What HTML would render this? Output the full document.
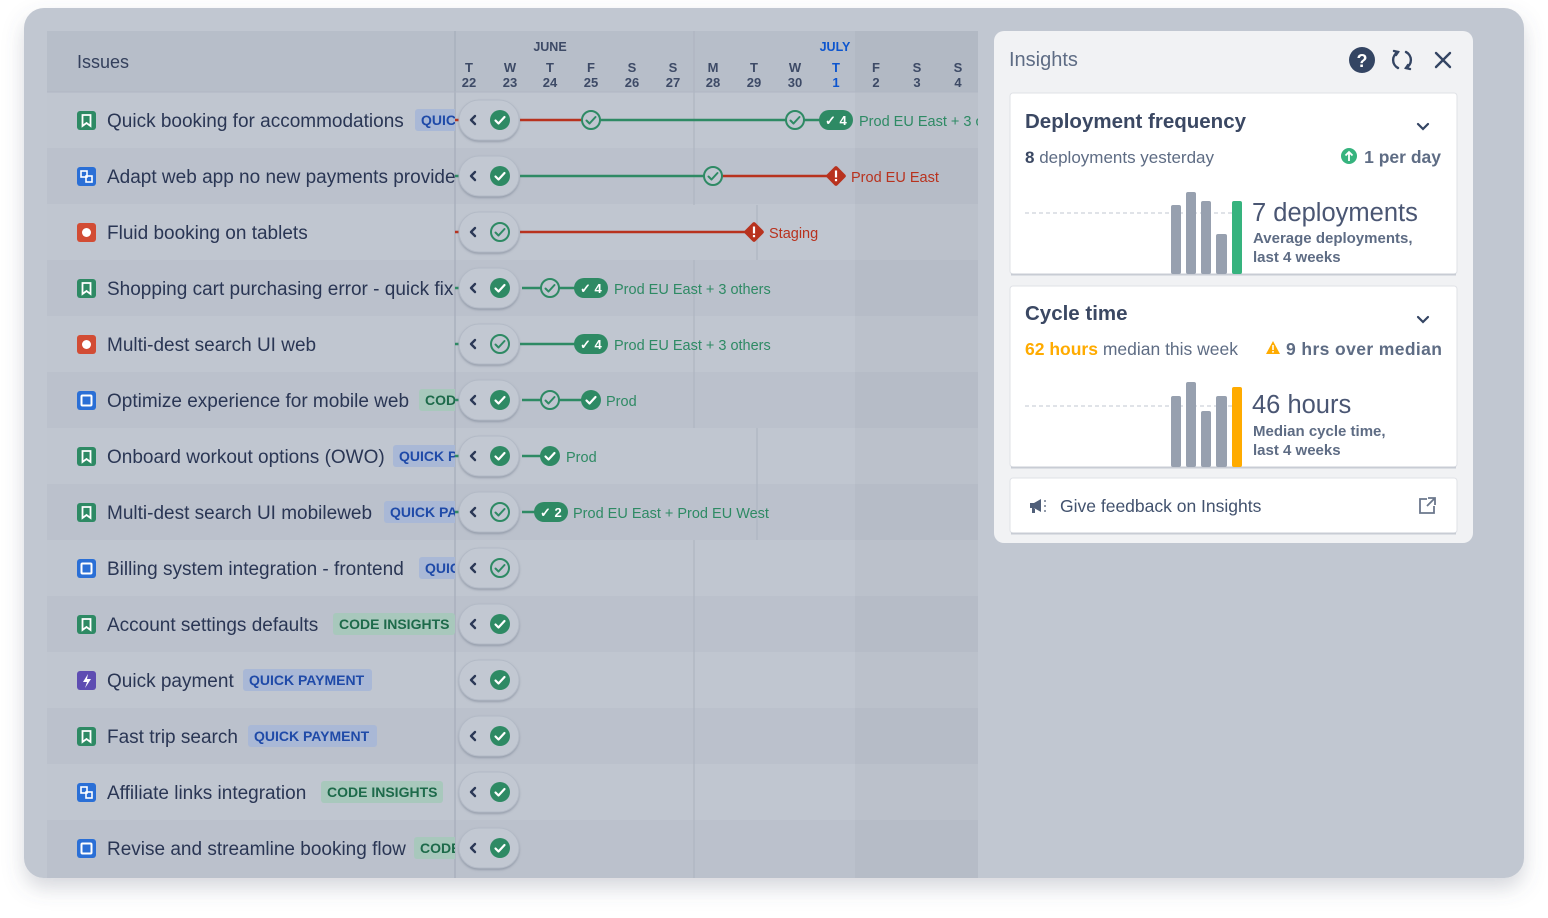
<!DOCTYPE html>
<html><head><meta charset="utf-8"><style>
html,body{margin:0;padding:0;background:#fff;}
svg{display:block;font-family:"Liberation Sans",sans-serif;}
</style></head><body>
<svg width="1548" height="918" viewBox="0 0 1548 918" xmlns="http://www.w3.org/2000/svg">
<defs>
<filter id="sh" x="-5%" y="-5%" width="110%" height="115%"><feDropShadow dx="0" dy="10" stdDeviation="10" flood-color="#5a6478" flood-opacity="0.25"/></filter>
<filter id="ps" x="-30%" y="-30%" width="160%" height="170%"><feDropShadow dx="0" dy="1.5" stdDeviation="1" flood-color="#6b7486" flood-opacity="0.5"/></filter>
<clipPath id="lc"><rect x="47" y="92" width="408" height="790"/></clipPath>
<clipPath id="tc"><rect x="455" y="92" width="523" height="790"/></clipPath>
<g id="cs"><circle r="10" fill="#2e8a64"/><polyline points="-4.5,0.5 -1.5,3.5 4.5,-3" fill="none" stroke="#fff" stroke-width="2.2" stroke-linecap="round" stroke-linejoin="round"/></g>
<g id="co"><circle r="9" fill="#c0c6d0" stroke="#2e8a64" stroke-width="2"/><polyline points="-4.5,0.5 -1.5,3.5 4.5,-3" fill="none" stroke="#2e8a64" stroke-width="2" stroke-linecap="round" stroke-linejoin="round"/></g>
<g id="pill"><rect x="-30" y="-20" width="60" height="40" rx="20" fill="#c2c8d2" stroke="#b3bac6" stroke-width="1" filter="url(#ps)"/><polyline points="-14,-4 -18,0 -14,4" fill="none" stroke="#2b3856" stroke-width="2.4" stroke-linecap="round" stroke-linejoin="round"/></g>
<g id="dia"><rect x="-7.5" y="-7.5" width="15" height="15" rx="2" fill="#b8321e" transform="rotate(45)"/><rect x="-1.1" y="-5.5" width="2.2" height="7" fill="#fff"/><rect x="-1.1" y="3" width="2.2" height="2.2" fill="#fff"/></g>
</defs>

<rect x="24" y="8" width="1500" height="870" rx="20" fill="#c1c7d1" filter="url(#sh)"/>

<rect x="47" y="31" width="931" height="847" fill="#c0c6d0"/>
<rect x="47" y="31" width="931" height="61" fill="#b7bec9"/>
<g fill="#bbc1cc">
<rect x="47" y="148" width="931" height="56"/><rect x="47" y="260" width="931" height="56"/><rect x="47" y="372" width="931" height="56"/><rect x="47" y="484" width="931" height="56"/><rect x="47" y="596" width="931" height="56"/><rect x="47" y="708" width="931" height="56"/><rect x="47" y="820" width="931" height="58"/>
</g>
<rect x="855" y="31" width="123" height="847" fill="#000" opacity="0.025"/>
<line x1="455" y1="31" x2="455" y2="878" stroke="#a9b0bd" stroke-width="1.5"/>
<line x1="694" y1="31" x2="694" y2="205" stroke="#aeb5c1" stroke-width="1.2"/>
<line x1="694" y1="260" x2="694" y2="428" stroke="#aeb5c1" stroke-width="1.2"/>
<line x1="694" y1="540" x2="694" y2="878" stroke="#aeb5c1" stroke-width="1.2"/>
<line x1="757" y1="205" x2="757" y2="260" stroke="#aeb5c1" stroke-width="1.2"/>
<line x1="757" y1="428" x2="757" y2="540" stroke="#aeb5c1" stroke-width="1.2"/>
<line x1="47" y1="92" x2="978" y2="92" stroke="#b0b7c3" stroke-width="1"/>

<text x="77" y="68" font-size="18" fill="#34405c">Issues</text>
<g font-size="13" font-weight="bold" fill="#3d4a66" text-anchor="middle">
<text x="550" y="51" font-size="12.5">JUNE</text>
<text x="835" y="51" font-size="12.5" fill="#0c55cf">JULY</text>
<text x="469" y="72">T</text><text x="469" y="87">22</text>
<text x="510" y="72">W</text><text x="510" y="87">23</text>
<text x="550" y="72">T</text><text x="550" y="87">24</text>
<text x="591" y="72">F</text><text x="591" y="87">25</text>
<text x="632" y="72">S</text><text x="632" y="87">26</text>
<text x="673" y="72">S</text><text x="673" y="87">27</text>
<text x="713" y="72">M</text><text x="713" y="87">28</text>
<text x="754" y="72">T</text><text x="754" y="87">29</text>
<text x="795" y="72">W</text><text x="795" y="87">30</text>
<text x="836" y="72" fill="#0c55cf">T</text><text x="836" y="87" fill="#0c55cf">1</text>
<text x="876" y="72">F</text><text x="876" y="87">2</text>
<text x="917" y="72">S</text><text x="917" y="87">3</text>
<text x="958" y="72">S</text><text x="958" y="87">4</text>
</g>

<g clip-path="url(#lc)">
<g font-size="19" fill="#2a3654">
<text x="107" y="127">Quick booking for accommodations</text>
<text x="107" y="183">Adapt web app no new payments provider</text>
<text x="107" y="239">Fluid booking on tablets</text>
<text x="107" y="295">Shopping cart purchasing error - quick fix</text>
<text x="107" y="351">Multi-dest search UI web</text>
<text x="107" y="407">Optimize experience for mobile web</text>
<text x="107" y="463">Onboard workout options (OWO)</text>
<text x="107" y="519">Multi-dest search UI mobileweb</text>
<text x="107" y="575">Billing system integration - frontend</text>
<text x="107" y="631">Account settings defaults</text>
<text x="107" y="687">Quick payment</text>
<text x="107" y="743">Fast trip search</text>
<text x="107" y="799">Affiliate links integration</text>
<text x="107" y="855">Revise and streamline booking flow</text>
</g>
<g font-size="14" font-weight="bold">
<rect x="415" y="109" width="60" height="22" rx="3" fill="#a9b8d6"/><text x="421" y="125" fill="#1f4aa8">QUICK</text>
<rect x="419" y="389" width="60" height="22" rx="3" fill="#a8c8bc"/><text x="425" y="405" fill="#1d6a4a">CODE</text>
<rect x="393" y="445" width="80" height="22" rx="3" fill="#a9b8d6"/><text x="399" y="461" fill="#1f4aa8">QUICK P</text>
<rect x="384" y="501" width="80" height="22" rx="3" fill="#a9b8d6"/><text x="390" y="517" fill="#1f4aa8">QUICK PA</text>
<rect x="419" y="557" width="60" height="22" rx="3" fill="#a9b8d6"/><text x="425" y="573" fill="#1f4aa8">QUICK</text>
<rect x="333" y="613" width="122" height="22" rx="3" fill="#a8c8bc"/><text x="339" y="629" fill="#1d6a4a">CODE INSIGHTS</text>
<rect x="243" y="669" width="129" height="22" rx="3" fill="#a9b8d6"/><text x="249" y="685" fill="#1f4aa8">QUICK PAYMENT</text>
<rect x="248" y="725" width="129" height="22" rx="3" fill="#a9b8d6"/><text x="254" y="741" fill="#1f4aa8">QUICK PAYMENT</text>
<rect x="321" y="781" width="122" height="22" rx="3" fill="#a8c8bc"/><text x="327" y="797" fill="#1d6a4a">CODE INSIGHTS</text>
<rect x="414" y="837" width="60" height="22" rx="3" fill="#a8c8bc"/><text x="420" y="853" fill="#1d6a4a">CODE</text>
</g>
</g>
<g>
<g id="bk"><rect x="77" y="111" width="19" height="19" rx="3" fill="#2e8a64"/><path d="M82.5 115h8v11l-4-3-4 3z" fill="none" stroke="#fff" stroke-width="1.8"/></g>
<rect x="77" y="167" width="19" height="19" rx="3" fill="#2a6fd6"/><rect x="81" y="171" width="6" height="6" fill="none" stroke="#fff" stroke-width="1.6"/><rect x="86" y="176" width="6" height="6" fill="none" stroke="#fff" stroke-width="1.6"/>
<rect x="77" y="223" width="19" height="19" rx="3" fill="#d24c34"/><circle cx="86.5" cy="232.5" r="4.5" fill="#fff"/>
<use href="#bk" y="168"/>
<rect x="77" y="335" width="19" height="19" rx="3" fill="#d24c34"/><circle cx="86.5" cy="344.5" r="4.5" fill="#fff"/>
<rect x="77" y="391" width="19" height="19" rx="3" fill="#2a6fd6"/><rect x="81.5" y="395.5" width="10" height="10" rx="1" fill="none" stroke="#fff" stroke-width="2"/>
<use href="#bk" y="336"/>
<use href="#bk" y="392"/>
<rect x="77" y="559" width="19" height="19" rx="3" fill="#2a6fd6"/><rect x="81.5" y="563.5" width="10" height="10" rx="1" fill="none" stroke="#fff" stroke-width="2"/>
<use href="#bk" y="504"/>
<rect x="77" y="671" width="19" height="19" rx="3" fill="#5e4db2"/><path d="M88 674l-5 8h4l-2 6 6-9h-4z" fill="#fff"/>
<use href="#bk" y="616"/>
<rect x="77" y="783" width="19" height="19" rx="3" fill="#2a6fd6"/><rect x="81" y="787" width="6" height="6" fill="none" stroke="#fff" stroke-width="1.6"/><rect x="86" y="792" width="6" height="6" fill="none" stroke="#fff" stroke-width="1.6"/>
<rect x="77" y="839" width="19" height="19" rx="3" fill="#2a6fd6"/><rect x="81.5" y="843.5" width="10" height="10" rx="1" fill="none" stroke="#fff" stroke-width="2"/>
</g>

<g clip-path="url(#tc)" stroke-width="2.5">
<line x1="455" y1="120" x2="462" y2="120" stroke="#b8321e"/>
<line x1="520" y1="120" x2="582" y2="120" stroke="#b8321e"/>
<line x1="600" y1="120" x2="786" y2="120" stroke="#2e8a64"/>
<line x1="804" y1="120" x2="820" y2="120" stroke="#2e8a64"/>
<line x1="455" y1="176" x2="462" y2="176" stroke="#2e8a64"/>
<line x1="520" y1="176" x2="704" y2="176" stroke="#2e8a64"/>
<line x1="722" y1="176" x2="830" y2="176" stroke="#b8321e"/>
<line x1="455" y1="232" x2="462" y2="232" stroke="#b8321e"/>
<line x1="520" y1="232" x2="748" y2="232" stroke="#b8321e"/>
<line x1="455" y1="288" x2="462" y2="288" stroke="#2e8a64"/>
<line x1="522" y1="288" x2="541" y2="288" stroke="#2e8a64"/>
<line x1="559" y1="288" x2="576" y2="288" stroke="#2e8a64"/>
<line x1="455" y1="344" x2="462" y2="344" stroke="#2e8a64"/>
<line x1="520" y1="344" x2="576" y2="344" stroke="#2e8a64"/>
<line x1="455" y1="400" x2="462" y2="400" stroke="#2e8a64"/>
<line x1="522" y1="400" x2="541" y2="400" stroke="#2e8a64"/>
<line x1="559" y1="400" x2="582" y2="400" stroke="#2e8a64"/>
<line x1="455" y1="456" x2="462" y2="456" stroke="#2e8a64"/>
<line x1="522" y1="456" x2="541" y2="456" stroke="#2e8a64"/>
<line x1="455" y1="512" x2="462" y2="512" stroke="#2e8a64"/>
<line x1="522" y1="512" x2="535" y2="512" stroke="#2e8a64"/>

<use href="#co" x="591" y="120"/><use href="#co" x="795" y="120"/>
<use href="#co" x="713" y="176"/>
<use href="#co" x="550" y="288"/>
<use href="#co" x="550" y="400"/><use href="#cs" x="591" y="400"/>
<use href="#cs" x="550" y="456"/>
<use href="#dia" x="836" y="176"/>
<use href="#dia" x="754" y="232"/>

<g font-size="13" font-weight="bold" fill="#fff">
<rect x="819" y="110" width="34" height="20" rx="10" fill="#2e8a64"/><text x="825" y="125">✓ 4</text>
<rect x="574" y="278" width="34" height="20" rx="10" fill="#2e8a64"/><text x="580" y="293">✓ 4</text>
<rect x="574" y="334" width="34" height="20" rx="10" fill="#2e8a64"/><text x="580" y="349">✓ 4</text>
<rect x="534" y="502" width="34" height="20" rx="10" fill="#2e8a64"/><text x="540" y="517">✓ 2</text>
</g>
<g font-size="14.5" fill="#2e8a64">
<text x="859" y="126">Prod EU East + 3 others</text>
<text x="614" y="294">Prod EU East + 3 others</text>
<text x="614" y="350">Prod EU East + 3 others</text>
<text x="606" y="406">Prod</text>
<text x="566" y="462">Prod</text>
<text x="573" y="518">Prod EU East + Prod EU West</text>
</g>
<g font-size="14.5" fill="#b8321e">
<text x="851" y="182">Prod EU East</text>
<text x="769" y="238">Staging</text>
</g>

<use href="#pill" x="489" y="120"/><use href="#cs" x="500" y="120"/>
<use href="#pill" x="489" y="176"/><use href="#cs" x="500" y="176"/>
<use href="#pill" x="489" y="232"/><use href="#co" x="500" y="232"/>
<use href="#pill" x="489" y="288"/><use href="#cs" x="500" y="288"/>
<use href="#pill" x="489" y="344"/><use href="#co" x="500" y="344"/>
<use href="#pill" x="489" y="400"/><use href="#cs" x="500" y="400"/>
<use href="#pill" x="489" y="456"/><use href="#cs" x="500" y="456"/>
<use href="#pill" x="489" y="512"/><use href="#co" x="500" y="512"/>
<use href="#pill" x="489" y="568"/><use href="#co" x="500" y="568"/>
<use href="#pill" x="489" y="624"/><use href="#cs" x="500" y="624"/>
<use href="#pill" x="489" y="680"/><use href="#cs" x="500" y="680"/>
<use href="#pill" x="489" y="736"/><use href="#cs" x="500" y="736"/>
<use href="#pill" x="489" y="792"/><use href="#cs" x="500" y="792"/>
<use href="#pill" x="489" y="848"/><use href="#cs" x="500" y="848"/>
</g>

<rect x="994" y="31" width="479" height="512" rx="10" fill="#f1f2f4"/>
<text x="1009" y="66" font-size="20" fill="#5e6c84">Insights</text>
<circle cx="1362" cy="60" r="13" fill="#344563"/>
<text x="1362" y="67" font-size="18" font-weight="bold" fill="#fff" text-anchor="middle">?</text>
<g fill="none" stroke="#344563" stroke-width="2.4" stroke-linecap="round">
<path d="M1398 52 a9 9 0 0 0 0 16"/><path d="M1394 51 l4 1 -2 3"/>
<path d="M1406 52 a9 9 0 0 1 0 16"/><path d="M1410 69 l-4 -1 2 -3"/>
<path d="M1436 53 l14 14 M1450 53 l-14 14"/>
</g>

<rect x="1010" y="93" width="447" height="181" rx="3" fill="#fff" stroke="#dfe1e6"/>
<line x1="1011" y1="274.5" x2="1456" y2="274.5" stroke="#c8ccd4" stroke-width="2"/>
<text x="1025" y="128" font-size="20.5" fill="#3b4863" font-weight="bold">Deployment frequency</text>
<polyline points="1418,124 1423,129 1428,124" fill="none" stroke="#344563" stroke-width="2.2" stroke-linecap="round"/>
<text x="1025" y="163" font-size="17" fill="#5e6c84"><tspan font-weight="bold" fill="#3b4863">8</tspan> deployments yesterday</text>
<circle cx="1349" cy="156" r="8" fill="#36b37e"/><path d="M1349 161v-9M1345.5 155.5l3.5-3.5 3.5 3.5" fill="none" stroke="#fff" stroke-width="1.8"/>
<text x="1441" y="163" font-size="17.5" fill="#5e6c84" font-weight="bold" text-anchor="end">1 per day</text>
<line x1="1025" y1="213" x2="1240" y2="213" stroke="#c1c7d0" stroke-width="1" stroke-dasharray="4,3"/>
<g fill="#97a0af">
<rect x="1171" y="205" width="10" height="69" rx="2"/><rect x="1186" y="192" width="10" height="82" rx="2"/><rect x="1201" y="201" width="10" height="73" rx="2"/><rect x="1216" y="234" width="11" height="40" rx="2"/>
</g>
<rect x="1232" y="201" width="10" height="73" rx="2" fill="#36b37e"/>
<text x="1252" y="221" font-size="25.5" fill="#4a5673">7 deployments</text>
<text x="1253" y="243" font-size="15" fill="#5e6c84" font-weight="bold">Average deployments,</text>
<text x="1253" y="262" font-size="15" fill="#5e6c84" font-weight="bold">last 4 weeks</text>

<rect x="1010" y="286" width="447" height="181" rx="3" fill="#fff" stroke="#dfe1e6"/>
<line x1="1011" y1="467.5" x2="1456" y2="467.5" stroke="#c8ccd4" stroke-width="2"/>
<text x="1025" y="320" font-size="20.5" fill="#3b4863" font-weight="bold">Cycle time</text>
<polyline points="1418,317 1423,322 1428,317" fill="none" stroke="#344563" stroke-width="2.2" stroke-linecap="round"/>
<text x="1025" y="355" font-size="17.5" fill="#5e6c84"><tspan font-weight="bold" fill="#ffab00">62 hours</tspan> median this week</text>
<path d="M1273 341l-7 13h14z" fill="#ffab00"/><rect x="1272.2" y="345" width="1.6" height="5" fill="#fff"/><rect x="1272.2" y="351" width="1.6" height="1.6" fill="#fff"/>
<text x="1286" y="355" font-size="17.5" fill="#5e6c84" font-weight="bold" textLength="156" lengthAdjust="spacing">9 hrs over median</text>
<line x1="1025" y1="406" x2="1240" y2="406" stroke="#c1c7d0" stroke-width="1" stroke-dasharray="4,3"/>
<g fill="#97a0af">
<rect x="1171" y="396" width="10" height="71" rx="2"/><rect x="1186" y="382" width="10" height="85" rx="2"/><rect x="1201" y="411" width="10" height="56" rx="2"/><rect x="1216" y="396" width="11" height="71" rx="2"/>
</g>
<rect x="1232" y="387" width="10" height="80" rx="2" fill="#ffab00"/>
<text x="1252" y="413" font-size="25.5" fill="#4a5673">46 hours</text>
<text x="1253" y="436" font-size="15" fill="#5e6c84" font-weight="bold">Median cycle time,</text>
<text x="1253" y="455" font-size="15" fill="#5e6c84" font-weight="bold">last 4 weeks</text>

<rect x="1010" y="478" width="447" height="55" rx="3" fill="#fff" stroke="#dfe1e6"/>
<line x1="1011" y1="533.5" x2="1456" y2="533.5" stroke="#c8ccd4" stroke-width="2"/>
<path d="M1030 503h4l7-4v13l-7-4h-4z M1032 508v5h3v-5z" fill="#505f79"/>
<path d="M1044 501h2M1044 506h2M1044 511h2" stroke="#505f79" stroke-width="1.2"/>
<text x="1060" y="512" font-size="17.5" fill="#42526e">Give feedback on Insights</text>
<g fill="none" stroke="#6b778c" stroke-width="1.8">
<path d="M1427 499h-7v14h14v-7"/><path d="M1428 498h7v7M1435 498l-8 8"/>
</g>
</svg>
</body></html>
